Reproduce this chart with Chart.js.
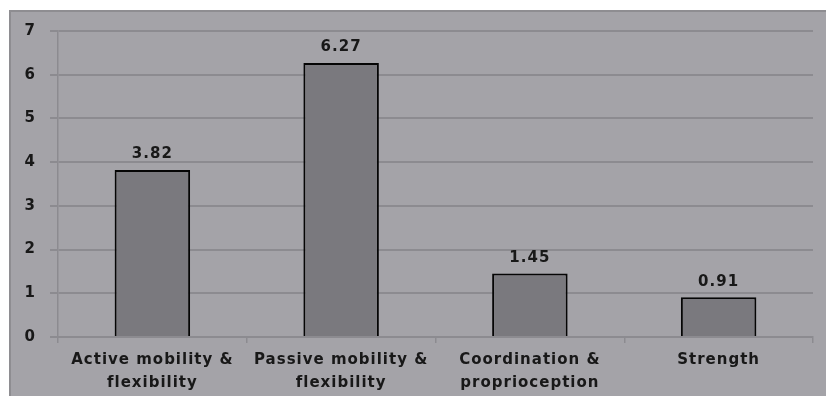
<!DOCTYPE html>
<html>
<head>
<meta charset="utf-8">
<script src="https://cdn.jsdelivr.net/npm/chart.js@4"></script>
<style>
  html, body { margin: 0; padding: 0; background: #fff; }
  #wrap { width: 826px; height: 396px; }
</style>
</head>
<body>
<div id="wrap"><canvas id="barChart" width="826" height="396"></canvas></div>
<script>
const categories = [
    ['Active mobility &', 'flexibility'],
    ['Passive mobility &', 'flexibility'],
    ['Coordination &', 'proprioception'],
    ['Strength']
];
const scores = [3.82, 6.27, 1.45, 0.91];
const yTicks = [0, 1, 2, 3, 4, 5, 6, 7];

const gridGray = '#8c8b90';
const textColor = '#181818';

// gray panel behind the whole chart, with darker top/left edge
const panelBg = {
    id: 'panelBg',
    beforeDraw(chart) {
        const ctx = chart.ctx;
        ctx.save();
        ctx.fillStyle = '#a4a3a8';
        ctx.fillRect(9, 10, chart.width - 9, chart.height - 10);
        ctx.strokeStyle = '#8e8d91';
        ctx.lineWidth = 2;
        ctx.beginPath();
        ctx.moveTo(10, chart.height);
        ctx.lineTo(10, 11);
        ctx.lineTo(chart.width, 11);
        ctx.stroke();
        ctx.restore();
        ctx.letterSpacing = '1px';
    }
};

// value printed above each bar
const valueLabels = {
    id: 'valueLabels',
    afterDatasetsDraw(chart) {
        const ctx = chart.ctx;
        const meta = chart.getDatasetMeta(0);
        ctx.save();
        ctx.letterSpacing = '1px';
        ctx.font = 'bold 15px "DejaVu Sans"';
        ctx.fillStyle = textColor;
        ctx.textAlign = 'center';
        ctx.textBaseline = 'bottom';
        meta.data.forEach((bar, i) => {
            ctx.fillText(scores[i].toFixed(2), bar.x, bar.y - 8);
        });
        ctx.restore();
    }
};

new Chart(document.getElementById('barChart').getContext('2d'), {
    type: 'bar',
    data: {
        labels: categories,
        datasets: [{
            data: scores,
            backgroundColor: '#7a797e',
            borderColor: '#050505',
            borderWidth: 2,
            barPercentage: 0.4,
            categoryPercentage: 1
        }]
    },
    options: {
        responsive: false,
        animation: false,
        layout: { padding: { top: 31, right: 13, left: 0, bottom: 0 } },
        plugins: { legend: { display: false }, tooltip: { enabled: false } },
        scales: {
            x: {
                afterFit(scale) { scale.height = 59; },
                grid: {
                    drawOnChartArea: false,
                    drawTicks: true,
                    tickLength: 6,
                    color: gridGray,
                    lineWidth: 1.5
                },
                border: { color: gridGray, width: 2 },
                ticks: {
                    color: textColor,
                    padding: 6,
                    maxRotation: 0,
                    font: { family: 'DejaVu Sans', size: 15, weight: 'bold', lineHeight: 1.5 }
                }
            },
            y: {
                min: 0,
                max: 7,
                afterFit(scale) { scale.width = 58; },
                afterBuildTicks(scale) { scale.ticks = yTicks.map(v => ({ value: v })); },
                grid: { color: gridGray, lineWidth: 2, tickLength: 8 },
                border: { color: gridGray, width: 1.5 },
                ticks: {
                    color: textColor,
                    padding: 14,
                    font: { family: 'DejaVu Sans', size: 15, weight: 'bold' }
                }
            }
        }
    },
    plugins: [panelBg, valueLabels]
});
</script>
</body>
</html>
